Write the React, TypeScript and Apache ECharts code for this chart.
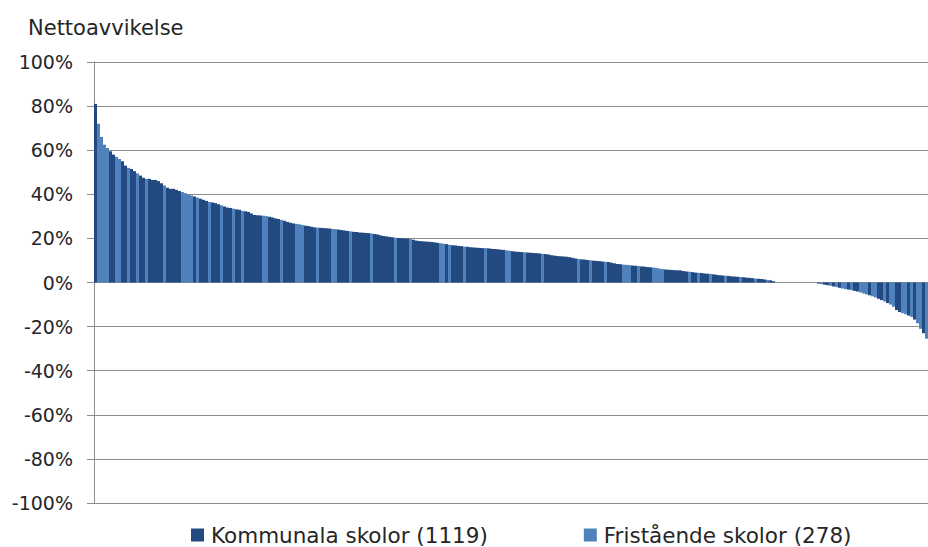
import React, { useEffect, useRef } from "react";
import * as echarts from "echarts";

// Net deviation per school (%), sorted descending
const values: number[] = [
  81, 72, 66, 62.5, 61, 59.5, 58, 57, 56, 55,
  53, 52, 51.5, 50.5, 49.5, 48.5, 47.5, 47, 47, 46.5,
  46.5, 46, 45, 44, 43, 42.5, 42.5, 42, 41.5, 41,
  40.5, 40, 39.5, 39, 38.5, 38, 37.5, 37, 36.5, 36.3,
  36, 35.5, 35, 34.5, 34, 33.8, 33.5, 33.2, 33, 32.5,
  32.3, 32, 31.3, 30.6, 30.5, 30.4, 30.3, 30.1, 29.8, 29.5,
  29.1, 28.8, 28.4, 28, 27.5, 27.1, 26.8, 26.6, 26.4, 26.1,
  25.8, 25.6, 25.3, 25, 24.9, 24.8, 24.7, 24.6, 24.5, 24.3,
  24.2, 24, 23.8, 23.6, 23.4, 23.2, 23, 22.9, 22.7, 22.6,
  22.5, 22.4, 22.2, 22, 21.8, 21.4, 21.1, 20.9, 20.7, 20.5,
  20.3, 20.2, 20.1, 20, 19.9, 19.7, 19.4, 19, 18.8, 18.7,
  18.6, 18.5, 18.4, 18.2, 18, 17.8, 17.6, 17.4, 17.1, 16.9,
  16.8, 16.6, 16.5, 16.3, 16.2, 16, 15.9, 15.8, 15.7, 15.6,
  15.6, 15.5, 15.3, 15.2, 15.1, 14.9, 14.8, 14.6, 14.4, 14.2,
  14, 13.9, 13.8, 13.7, 13.6, 13.5, 13.4, 13.3, 13.2, 13,
  12.9, 12.7, 12.4, 12.2, 12, 11.9, 11.8, 11.7, 11.5, 11.2,
  10.9, 10.7, 10.5, 10.4, 10.2, 10.1, 9.9, 9.8, 9.7, 9.5,
  9.4, 9.3, 9, 8.7, 8.4, 8.3, 8.1, 8, 7.9, 7.7,
  7.6, 7.5, 7.3, 7.2, 7, 6.9, 6.8, 6.6, 6.3, 6.1,
  5.9, 5.8, 5.7, 5.6, 5.5, 5.5, 5.2, 5, 4.9, 4.7,
  4.5, 4.4, 4.3, 4.1, 4, 3.9, 3.7, 3.5, 3.3, 3.2,
  3.1, 3, 2.8, 2.7, 2.6, 2.5, 2.4, 2.2, 2.1, 2,
  1.8, 1.7, 1.6, 1.4, 1.2, 1, 0.6, 0, 0, 0,
  0, 0, 0, 0, 0, 0, 0, 0, 0, 0,
  0, -0.5, -0.7, -1, -1.2, -1.5, -1.8, -2.1, -2.4, -2.7,
  -3, -3.2, -3.5, -3.8, -4.1, -4.5, -5, -5.4, -5.8, -6.3,
  -6.8, -7.4, -8, -8.6, -9.3, -10, -11, -12.5, -13.4, -13.9,
  -14.4, -15, -15.6, -16.8, -18.5, -21, -23, -25.5,
];

// K = kommunal, F = fristående (one letter per bar)
const schoolType: string =
  "KFFFFKKFFK" + "KFKKFKKFKK" + "KKKFKKKKKF" + "FFFKFKKKFK" +
  "KKFKKKFKKF" + "KKKKKKFFKK" + "KKFKKKKFFF" + "KKKKFKKKKF" +
  "FKKKKFKKKK" + "KKFKKKKKKK" + "FKKKKFKKKK" + "KKKKKFFKFK" +
  "KKKFKKKKKK" + "FKKKKKKFFK" + "KKKFKKKKKF" + "KKKKKKKKKK" +
  "KFKKKFKKKK" + "FKKKKKFFFK" + "KFKKKKFFFF" + "KKKKKKKKFK" +
  "KFKKKFKKKK" + "FKKKKFKKKK" + "FKKKFKKKFK" + "KFKKKFKKFK" +
  "KKFKKFKFKF" + "FKFKKFFFKF" + "FKKFKFFKKF" + "FKFKFFKF";

const seriesNames: string[] = ["Kommunala skolor (1119)", "Fristående skolor (278)"];
const yTicks: number[] = [-100, -80, -60, -40, -20, 0, 20, 40, 60, 80, 100];

const DARK = "#224A80";
const LIGHT = "#4F81BD";
const GRID = "#8C8C8C";
const TEXT = "#262626";
const FONT = "'DejaVu Sans', 'Open Sans', sans-serif";

export default function App() {
  const ref = useRef<HTMLDivElement>(null);

  useEffect(() => {
    if (!ref.current) return;
    const chart = echarts.init(ref.current, null, { renderer: "svg" });
    const categories = values.map((_, i) => String(i + 1));
    const kData = values.map((v, i) => (schoolType[i] === "K" ? v : null));
    const fData = values.map((v, i) => (schoolType[i] === "F" ? v : null));

    chart.setOption({
      animation: false,
      backgroundColor: "#ffffff",
      title: {
        text: "Nettoavvikelse",
        left: 23,
        top: 12,
        textStyle: { fontFamily: FONT, fontSize: 21, fontWeight: "normal", color: TEXT },
      },
      legend: {
        left: 186,
        top: 519,
        itemWidth: 13,
        itemHeight: 13,
        itemGap: 96,
        icon: "rect",
        textStyle: { fontFamily: FONT, fontSize: 21.5, color: TEXT, padding: [0, 0, 0, 2] },
        data: [
          { name: seriesNames[0], itemStyle: { color: DARK } },
          { name: seriesNames[1], itemStyle: { color: LIGHT } },
        ],
      },
      grid: { left: 94, right: 0, top: 62, bottom: 44, containLabel: false },
      xAxis: {
        type: "category",
        data: categories,
        boundaryGap: true,
        axisLine: { show: true, onZero: true, lineStyle: { color: GRID, width: 1 } },
        axisTick: { show: false },
        axisLabel: { show: false },
        splitLine: { show: false },
      },
      yAxis: {
        type: "value",
        min: yTicks[0],
        max: yTicks[yTicks.length - 1],
        interval: 20,
        axisLine: { show: true, lineStyle: { color: GRID, width: 1 } },
        axisTick: { show: true, length: 7, inside: false, lineStyle: { color: GRID } },
        axisLabel: {
          formatter: "{value}%",
          margin: 21,
          fontFamily: FONT,
          fontSize: 19,
          color: TEXT,
        },
        splitLine: { show: true, lineStyle: { color: GRID, width: 1 } },
      },
      series: [
        {
          name: seriesNames[0],
          type: "bar",
          data: kData,
          barWidth: "100%",
          barGap: "-100%",
          barCategoryGap: "0%",
          itemStyle: { color: DARK },
        },
        {
          name: seriesNames[1],
          type: "bar",
          data: fData,
          barWidth: "100%",
          barGap: "-100%",
          barCategoryGap: "0%",
          itemStyle: { color: LIGHT },
        },
      ],
    });

    return () => chart.dispose();
  }, []);

  return (
    <div
      ref={ref}
      style={{ position: "fixed", left: 0, top: 0, width: 928, height: 547, background: "#fff" }}
    />
  );
}
